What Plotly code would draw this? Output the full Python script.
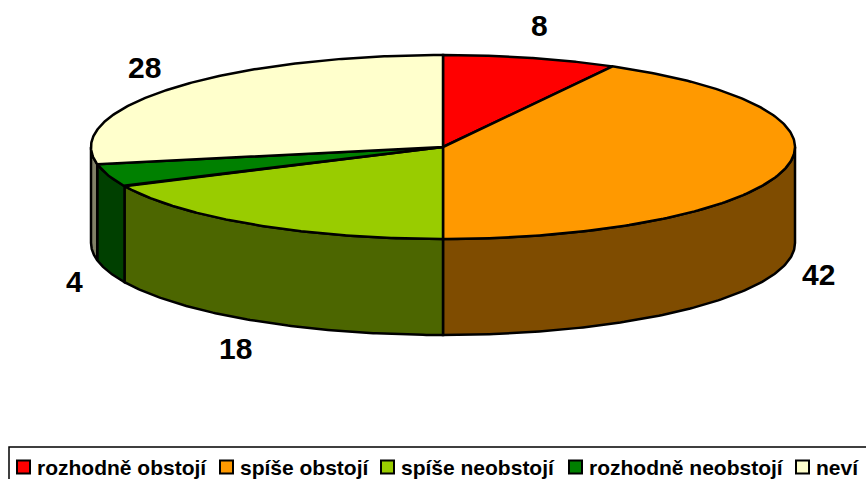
import numpy as np
import plotly.graph_objects as go

categories = ["rozhodně obstojí", "spíše obstojí", "spíše neobstojí", "rozhodně neobstojí", "neví"]
values = [8, 42, 18, 4, 28]
top_colors = ["#FF0000", "#FF9900", "#99CC00", "#008000", "#FFFFCC"]
side_colors = ["#800000", "#7F4C00", "#4C6600", "#004000", "#808066"]

W, H = 866, 479
cx, cy, rx, ry, depth = 443, 147, 352, 92, 96
FONT = "Liberation Sans, Arial, sans-serif"

total = float(sum(values))
cum = np.concatenate([[0.0], np.cumsum(values)]) / total * 2 * np.pi


def pt(t, dz=0.0):
    t = np.asarray(t)
    return cx + rx * np.sin(t), cy - ry * np.cos(t) + dz


fig = go.Figure()

# side (wall) faces — only the front half is visible
for i in range(len(values)):
    a, b = cum[i], cum[i + 1]
    lo, hi = max(a, np.pi / 2), min(b, 3 * np.pi / 2)
    if hi <= lo:
        continue
    t = np.linspace(lo, hi, 120)
    xs, ys = pt(t)
    xb, yb = pt(t[::-1], depth)
    fig.add_trace(go.Scatter(
        x=np.r_[xs, xb, xs[:1]], y=np.r_[ys, yb, ys[:1]],
        fill="toself", fillcolor=side_colors[i], mode="lines",
        line=dict(color="black", width=2.5), showlegend=False, hoverinfo="skip"))

# top faces
for i in range(len(values)):
    a, b = cum[i], cum[i + 1]
    t = np.linspace(a, b, 200)
    xs, ys = pt(t)
    fig.add_trace(go.Scatter(
        x=np.r_[cx, xs, cx], y=np.r_[cy, ys, cy],
        fill="toself", fillcolor=top_colors[i], mode="lines",
        line=dict(color="black", width=2.5), name=categories[i],
        showlegend=False, hoverinfo="skip"))

# data labels placed from slice mid-angles
annotations = []
for i, v in enumerate(values):
    tm = (cum[i] + cum[i + 1]) / 2
    lx = cx + 1.1 * rx * np.sin(tm)
    ly = cy - 1.36 * ry * np.cos(tm) + (depth if np.cos(tm) < 0 else 0)
    annotations.append(dict(x=lx, y=ly, xref="x", yref="y", text=str(v),
                            showarrow=False, xanchor="center", yanchor="middle",
                            font=dict(family=FONT, size=30, color="black", weight="bold")))

# legend (drawn manually to match the tight Excel layout)
legend_x = [17, 220, 381, 569, 796]
shapes = [dict(type="rect", xref="x", yref="y", x0=9, x1=W + 5, y0=447, y1=H + 5,
               line=dict(color="black", width=1.5), fillcolor="white", layer="below")]
for i, c in enumerate(categories):
    x0 = legend_x[i]
    shapes.append(dict(type="rect", xref="x", yref="y", x0=x0, x1=x0 + 13, y0=460.5, y1=473.5,
                       line=dict(color="black", width=2), fillcolor=top_colors[i]))
    annotations.append(dict(x=x0 + 18, y=467.5, xref="x", yref="y", text=c, showarrow=False,
                            xanchor="left", yanchor="middle",
                            font=dict(family=FONT, size=21, color="black", weight="bold")))

fig.update_layout(
    width=W, height=H, margin=dict(l=0, r=0, t=0, b=0),
    paper_bgcolor="white", plot_bgcolor="white",
    xaxis=dict(range=[0, W], visible=False, fixedrange=True),
    yaxis=dict(range=[H, 0], visible=False, fixedrange=True),
    showlegend=False, annotations=annotations, shapes=shapes,
)

fig.write_html("out.html", config={"displayModeBar": False},
               post_script="document.body.style.margin='0';document.body.style.overflow='hidden';")
